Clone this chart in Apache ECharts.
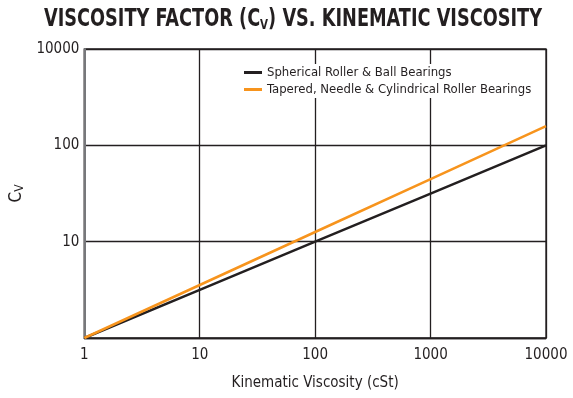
<!DOCTYPE html>
<html>
<head>
<meta charset="utf-8">
<script src="https://cdn.jsdelivr.net/npm/echarts@6/dist/echarts.min.js"></script>
<style>
  html, body { margin: 0; padding: 0; background: #fff; }
  #chart { width: 573px; height: 398px; }
</style>
</head>
<body>
<div id="chart"></div>
<script>
// Kinematic viscosity (cSt) sample points
const viscosity = [1, 10, 100, 1000, 10000];
// Viscosity factor Cv for each bearing family
const sphericalBall = [1, 3.16, 10, 31.6, 100];
const taperedNeedleCyl = [1, 3.55, 12.6, 44.7, 158];
// Y tick labels as printed on the chart, bottom to top
const yTickValues = [1, 10, 100, 1000];
const yTickLabels = ['', '10', '100', '10000'];
const xTickLabels = ['1', '10', '100', '1000', '10000'];

const FONT = '"DejaVu Sans Condensed", "Liberation Sans Narrow", sans-serif';
const INK = '#231f20';

// Title pieces; the heading is squeezed horizontally to a condensed width
const titleMain = 'VISCOSITY FACTOR (C';
const titleSub = 'V';
const titleTail = ') VS. KINEMATIC VISCOSITY';
const TITLE_SIZE = 24, TITLE_SUB_SIZE = 14, TITLE_WIDTH = 498;

function measure(txt, size, weight) {
  const c = document.createElement('canvas').getContext('2d');
  c.font = weight + ' ' + size + 'px ' + FONT;
  return c.measureText(txt).width;
}
const rawTitleWidth = measure(titleMain + titleTail, TITLE_SIZE, 'bold') + measure(titleSub, TITLE_SUB_SIZE, 'bold');
const titleScale = Math.min(1, TITLE_WIDTH / rawTitleWidth);

const chart = echarts.init(document.getElementById('chart'), null, { renderer: 'canvas' });

chart.setOption({
  backgroundColor: '#fff',
  animation: false,
  graphic: [{
    type: 'text',
    x: 293,
    y: 7,
    scaleX: titleScale,
    style: {
      text: titleMain + '{sub|' + titleSub + '}' + titleTail,
      fontFamily: FONT,
      fontWeight: 'bold',
      fontSize: TITLE_SIZE,
      fill: INK,
      align: 'center',
      verticalAlign: 'top',
      rich: {
        sub: { fontFamily: FONT, fontWeight: 'bold', fontSize: TITLE_SUB_SIZE, fill: INK, verticalAlign: 'bottom', padding: [11, 0, 0, 0] }
      }
    }
  }],
  legend: {
    orient: 'vertical',
    left: 240,
    top: 64,
    itemWidth: 18,
    itemHeight: 3,
    itemGap: 4,
    padding: [2, 6, 2, 4],
    backgroundColor: '#fff',
    icon: 'rect',
    textStyle: { fontFamily: FONT, fontSize: 13, color: INK, padding: [0, 0, 0, 0] }
  },
  grid: {
    left: 82, right: 27, top: 49, bottom: 60,
    show: true, borderColor: INK, borderWidth: 1.3,
    containLabel: false
  },
  xAxis: {
    type: 'log',
    logBase: 10,
    min: 1,
    max: 10000,
    name: 'Kinematic Viscosity (cSt)',
    nameLocation: 'middle',
    nameGap: 38,
    nameTextStyle: { fontFamily: FONT, fontSize: 15, color: INK },
    axisLine: { show: true, lineStyle: { color: INK, width: 1.3 } },
    axisTick: { show: false },
    axisLabel: {
      fontFamily: FONT, fontSize: 15, color: INK, margin: 10,
      formatter: function (v) {
        const i = viscosity.indexOf(Math.round(v));
        return i >= 0 ? xTickLabels[i] : '';
      }
    },
    splitLine: { show: true, lineStyle: { color: INK, width: 1.3 } },
    minorTick: { show: false }
  },
  yAxis: {
    type: 'log',
    logBase: 10,
    min: 1,
    max: 1000,
    name: 'C{sub|V}',
    nameLocation: 'middle',
    nameRotate: 90,
    nameGap: 47,
    nameTextStyle: {
      fontFamily: FONT, fontSize: 17, color: INK,
      rich: { sub: { fontFamily: FONT, fontSize: 12, color: INK, verticalAlign: 'bottom', padding: [6, 0, 0, 0] } }
    },
    axisLine: { show: true, lineStyle: { color: '#77787b', width: 2 } },
    axisTick: { show: false },
    axisLabel: {
      fontFamily: FONT, fontSize: 15, color: INK, margin: 5,
      formatter: function (v) {
        const i = yTickValues.indexOf(Math.round(v));
        return i >= 0 ? yTickLabels[i] : '';
      }
    },
    splitLine: { show: true, lineStyle: { color: INK, width: 1.3 } }
  },
  series: [
    {
      name: 'Spherical Roller & Ball Bearings',
      type: 'line',
      data: viscosity.map((x, i) => [x, sphericalBall[i]]),
      showSymbol: false,
      symbol: 'none',
      lineStyle: { color: INK, width: 2.5 },
      itemStyle: { color: INK },
      z: 3
    },
    {
      name: 'Tapered, Needle & Cylindrical Roller Bearings',
      type: 'line',
      data: viscosity.map((x, i) => [x, taperedNeedleCyl[i]]),
      showSymbol: false,
      symbol: 'none',
      lineStyle: { color: '#f7941d', width: 2.5 },
      itemStyle: { color: '#f7941d' },
      z: 4
    }
  ]
});
</script>
</body>
</html>
